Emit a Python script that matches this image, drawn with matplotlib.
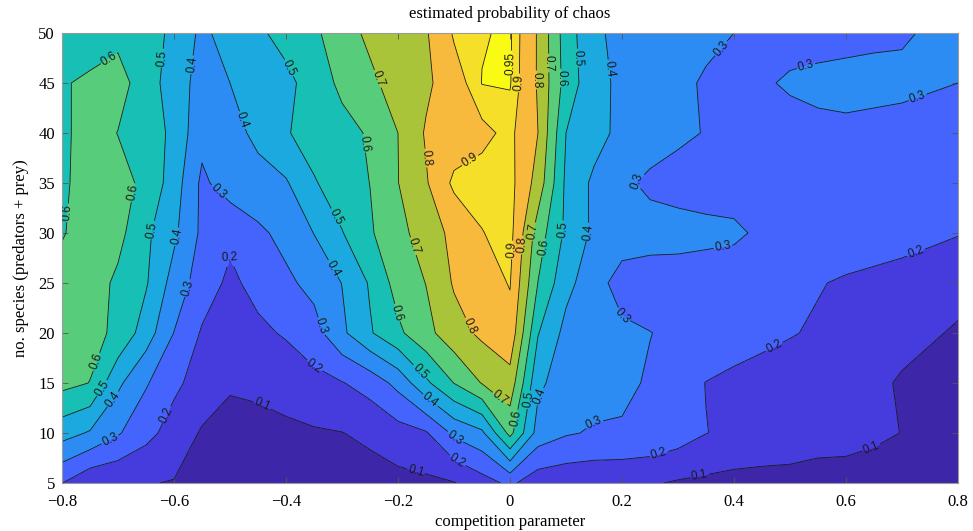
import numpy as np
import matplotlib
matplotlib.use("Agg")
import matplotlib.pyplot as plt

# grid: competition parameter (x) and number of species (y)
comp = [round(-0.8 + 0.05 * k, 2) for k in range(33)]
species = [5, 10, 15, 20, 25, 30, 35, 40, 45, 50]

# estimated probability of chaos, one list per species row
p05 = [0.202, 0.12, 0.11, 0.105, 0.095, 0.05, 0.04, 0.04, 0.04, 0.05, 0.05, 0.06, 0.07, 0.08, 0.095, 0.16, 0.22,
       0.14, 0.13, 0.125, 0.12, 0.11, 0.09, 0.08, 0.07, 0.07, 0.07, 0.06, 0.06, 0.05, 0.05, 0.04, 0.04]
p10 = [0.44, 0.39, 0.31, 0.23, 0.16, 0.09, 0.07, 0.07, 0.08, 0.09, 0.098, 0.12, 0.16, 0.19, 0.32, 0.38, 0.63,
       0.36, 0.31, 0.29, 0.29, 0.28, 0.25, 0.202, 0.18, 0.16, 0.15, 0.14, 0.135, 0.12, 0.098, 0.08, 0.06]
p15 = [0.63, 0.598, 0.42, 0.31, 0.22, 0.16, 0.11, 0.12, 0.14, 0.17, 0.195, 0.24, 0.33, 0.48, 0.602, 0.705, 0.76,
       0.42, 0.35, 0.34, 0.32, 0.29, 0.24, 0.198, 0.18, 0.17, 0.16, 0.155, 0.15, 0.12, 0.09, 0.07, 0.06]
p20 = [0.68, 0.63, 0.58, 0.45, 0.298, 0.19, 0.17, 0.18, 0.21, 0.26, 0.38, 0.49, 0.58, 0.67, 0.76, 0.82, 0.87,
       0.505, 0.37, 0.34, 0.32, 0.302, 0.28, 0.26, 0.24, 0.22, 0.205, 0.19, 0.17, 0.15, 0.13, 0.11, 0.09]
p25 = [0.65, 0.65, 0.58, 0.51, 0.36, 0.25, 0.18, 0.23, 0.28, 0.33, 0.402, 0.51, 0.64, 0.702, 0.81, 0.86, 0.905,
       0.598, 0.43, 0.34, 0.26, 0.25, 0.245, 0.24, 0.235, 0.22, 0.21, 0.205, 0.19, 0.18, 0.17, 0.15, 0.13]
p30 = [0.59, 0.66, 0.63, 0.52, 0.42, 0.28, 0.22, 0.28, 0.33, 0.402, 0.495, 0.59, 0.66, 0.76, 0.82, 0.897, 0.93,
       0.65, 0.48, 0.38, 0.35, 0.34, 0.34, 0.33, 0.32, 0.28, 0.27, 0.26, 0.25, 0.24, 0.23, 0.22, 0.205]
p35 = [0.58, 0.65, 0.63, 0.58, 0.45, 0.28, 0.35, 0.37, 0.39, 0.49, 0.56, 0.601, 0.698, 0.79, 0.92, 0.93, 0.93,
       0.76, 0.48, 0.38, 0.32, 0.28, 0.26, 0.25, 0.25, 0.25, 0.25, 0.25, 0.24, 0.24, 0.24, 0.23, 0.23]
p40 = [0.58, 0.64, 0.598, 0.57, 0.47, 0.33, 0.37, 0.42, 0.49, 0.55, 0.57, 0.61, 0.70, 0.81, 0.84, 0.88, 0.92,
       0.80, 0.50, 0.44, 0.37, 0.35, 0.32, 0.295, 0.27, 0.27, 0.27, 0.28, 0.28, 0.27, 0.27, 0.26, 0.26]
p45 = [0.595, 0.61, 0.63, 0.56, 0.44, 0.37, 0.40, 0.45, 0.47, 0.55, 0.62, 0.68, 0.74, 0.78, 0.86, 0.952, 0.955,
       0.79, 0.56, 0.43, 0.38, 0.35, 0.32, 0.29, 0.27, 0.29, 0.31, 0.32, 0.33, 0.33, 0.32, 0.31, 0.30]
p50 = [0.56, 0.57, 0.58, 0.56, 0.47, 0.38, 0.44, 0.48, 0.54, 0.58, 0.66, 0.72, 0.75, 0.79, 0.91, 0.945, 0.96,
       0.79, 0.55, 0.42, 0.37, 0.36, 0.34, 0.32, 0.30, 0.28, 0.27, 0.27, 0.27, 0.28, 0.29, 0.31, 0.32]

levels = [0.1, 0.2, 0.3, 0.4, 0.5, 0.6, 0.7, 0.8, 0.9, 0.95]

# parula-like band colours (lowest band first)
band_colors = ['#3E26A8', '#463CDE', '#4563FD', '#2D8CF3', '#1CA9DF', '#18BFB5',
               '#57CC7A', '#AAC439', '#F8BA3D', '#F6DF28', '#F9FB15']

# where the reference puts its contour labels (data coords)
label_spots = [
    (-0.718, 47.6), (-0.625, 47.5), (-0.566, 46.8), (-0.402, 46.3), (-0.477, 41.3),
    (-0.668, 34.0), (-0.788, 32.0), (-0.518, 34.3), (-0.639, 30.3), (-0.593, 29.6),
    (-0.504, 28.4), (-0.566, 24.3), (-0.232, 45.5), (-0.255, 39.0), (-0.150, 37.5),
    (-0.075, 37.6), (-0.312, 31.6), (-0.321, 26.3), (-0.166, 28.8), (-0.182, 22.3),
    (-0.152, 16.6), (-0.138, 13.6), (-0.336, 20.7), (-0.354, 16.3), (-0.105, 8.8),
    (-0.098, 6.8), (-0.166, 6.6), (-0.441, 13.0), (-0.075, 20.6), (-0.016, 13.6),
    (0.004, 11.5), (0.036, 13.3), (0.066, 13.3), (0.139, 12.6), (0.000, 47.0),
    (0.023, 45.0), (0.057, 45.3), (0.077, 47.0), (0.098, 45.5), (0.127, 47.5),
    (0.161, 46.3), (0.004, 28.3), (0.021, 28.8), (0.045, 30.1), (0.063, 28.5),
    (0.096, 30.3), (0.152, 30.1), (0.380, 48.3), (0.532, 46.0), (0.725, 44.0),
    (0.229, 35.1), (0.380, 28.6), (0.198, 21.5), (0.723, 28.3), (0.470, 18.8),
    (0.264, 8.3), (0.338, 5.8), (0.645, 8.6), (-0.732, 17.0), (-0.729, 14.5),
    (-0.702, 13.1), (-0.721, 10.1), (-0.620, 12.0),
]

plt.rcParams['font.family'] = ['Liberation Serif', 'DejaVu Serif']

Z = np.array([p05, p10, p15, p20, p25, p30, p35, p40, p45, p50])
X, Y = np.meshgrid(comp, species)

fig = plt.figure(figsize=(9.73, 5.31), dpi=100)
ax = fig.add_axes([0.0637, 0.0904, 0.9209, 0.8475])

ax.contourf(X, Y, Z, levels=[0.0] + levels + [1.0], colors=band_colors)
cs = ax.contour(X, Y, Z, levels=levels, colors='#1a1a1a', linewidths=0.6)
ax.clabel(cs, fmt='%g', fontsize=8.5, inline=True, inline_spacing=2, manual=label_spots)
for t in cs.labelTexts:
    t.set_fontfamily('Liberation Sans')

ax.set_xlim(-0.8, 0.8)
ax.set_ylim(5, 50)
ax.set_xticks([-0.8, -0.6, -0.4, -0.2, 0, 0.2, 0.4, 0.6, 0.8])
ax.set_xticklabels(['\u22120.8', '\u22120.6', '\u22120.4', '\u22120.2', '0', '0.2', '0.4', '0.6', '0.8'])
ax.set_yticks(species)
ax.tick_params(direction='in', top=True, right=True, length=4, width=0.6,
               color='#555555', labelsize=12)
ax.tick_params(axis='x', pad=8)
ax.tick_params(axis='y', pad=5)
for s in ax.spines.values():
    s.set_color('#9a9a9a')
    s.set_linewidth(0.8)

ax.set_title('estimated probability of chaos', fontsize=12, pad=11)
ax.set_xlabel('competition parameter', fontsize=12, labelpad=3)
ax.set_ylabel('no. species (predators + prey)', fontsize=12, labelpad=7)

fig.savefig('out.png', dpi=100)
